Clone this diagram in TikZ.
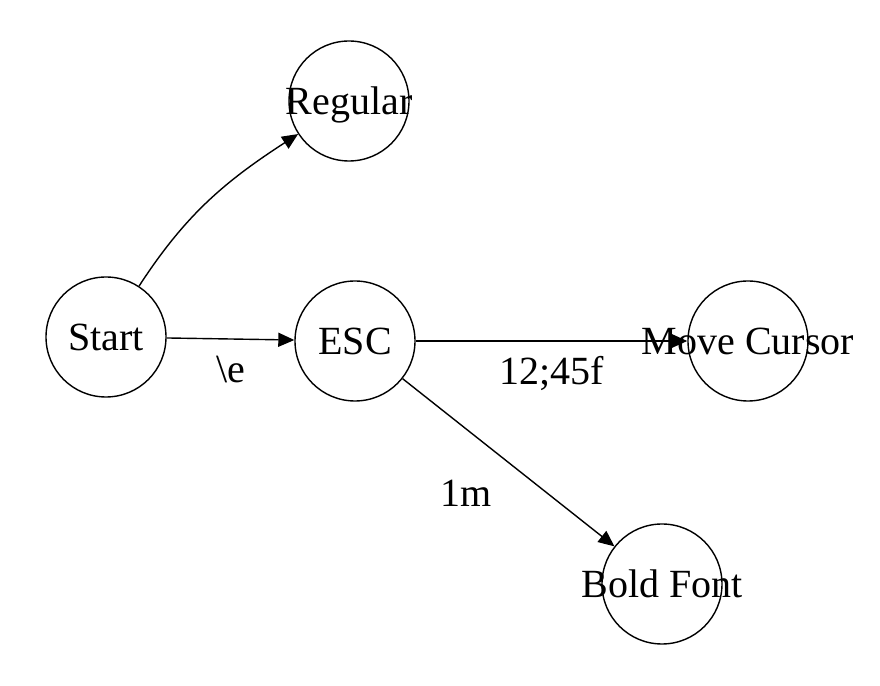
\documentclass[tikz,border=0pt]{standalone}
\usepackage{fontspec}
\setmainfont{Liberation Serif}
\usetikzlibrary{arrows.meta}
\tikzset{
  lbl/.style={font=\fontsize{20pt}{24pt}\selectfont, text height=13.2pt, text depth=0pt, inner sep=3.33pt},
  state/.style={circle, draw, line width=0.7pt, minimum size=60pt, inner sep=0pt, label={[lbl]center:#1}},
  trans/.style={-{Triangle[length=8pt,width=7pt]}, line width=0.7pt},
}
\begin{document}
\begin{tikzpicture}[x=0.5pt,y=0.5pt]
\useasboundingbox (0,0) rectangle (880,686);
\node[state=Start] (start) at (106,349) {};
\node[state=Regular] (regular) at (349,585) {};
\node[state=ESC] (esc) at (355,345) {};
\node[state=Move Cursor] (move) at (748,345) {};
\node[state=Bold Font] (bold) at (662,102) {};
\draw[trans] (start) to[out=57,in=213] (regular);
\draw[trans] (start) -- node[lbl,below=5pt] {\textbackslash e} (esc);
\draw[trans] (esc) -- node[lbl,below=5pt] {12;45f} (move);
\draw[trans] (esc) -- node[lbl,below left=5pt] {1m} (bold);
\end{tikzpicture}
\end{document}
